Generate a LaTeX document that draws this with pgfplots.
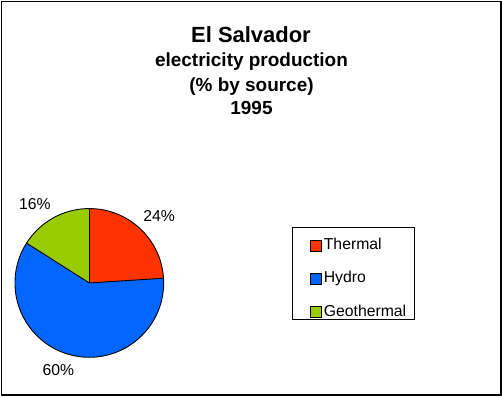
\documentclass[border=0pt]{standalone}
\usepackage{pgfplots}
\usepackage{pgfplotstable}
\pgfplotsset{compat=1.18}
\usepackage{fontspec}
\setmainfont{Liberation Sans}
\definecolor{cthermal}{HTML}{FF3300}
\definecolor{chydro}{HTML}{0066FF}
\definecolor{cgeo}{HTML}{99CC00}
\pgfplotstableread{
source value
Thermal 24
Hydro 60
Geothermal 16
}\piedata
\begin{document}
\begin{tikzpicture}
\pgfplotstablegetelem{0}{value}\of\piedata \let\va\pgfplotsretval
\pgfplotstablegetelem{1}{value}\of\piedata \let\vb\pgfplotsretval
\pgfplotstablegetelem{2}{value}\of\piedata \let\vc\pgfplotsretval
\pgfmathsetmacro\aone{90-3.6*\va}
\pgfmathsetmacro\atwo{\aone-3.6*\vb}
\pgfmathsetmacro\athree{\atwo-3.6*\vc}
\begin{axis}[
  scale only axis, width=502bp, height=397bp,
  xmin=0, xmax=502, ymin=0, ymax=397,
  hide axis, clip=false,
  legend cell align=left,
  legend image code/.code={\draw[#1,draw=black,line width=0.8bp] (0bp,-5.5bp) rectangle (11bp,5.5bp);},
  legend style={draw=none, fill=none, at={(axis cs:309,159)}, anchor=north west,
    inner sep=0pt, row sep=19.3bp, font=\fontsize{15.8bp}{18bp}\selectfont,
    nodes={inner sep=0pt, inner xsep=2.5bp, text height=11bp, text depth=3bp}},
]
\path (0,0) rectangle (502,397);
% frame
\draw[line width=1bp] (0.5,396.5) -- (0.5,1) ;
\draw[line width=1bp] (0,396.5) -- (501,396.5);
\draw[line width=2bp] (500.5,397) -- (500.5,2) -- (0,2);
% pie wedges
\fill[cthermal] (88.5,114.5) -- ++(90:74.5bp) arc[start angle=90, end angle=\aone, radius=74.5bp] -- cycle;
\fill[chydro] (88.5,114.5) -- ++(\aone:74.5bp) arc[start angle=\aone, end angle=\atwo, radius=74.5bp] -- cycle;
\fill[cgeo] (88.5,114.5) -- ++(\atwo:74.5bp) arc[start angle=\atwo, end angle=\athree, radius=74.5bp] -- cycle;
\draw[line width=0.9bp] (88.5,114.5) circle[radius=74.5bp];
\draw[line width=0.9bp] (88.5,114.5) -- ++(90:74.5bp);
\draw[line width=0.9bp] (88.5,114.5) -- ++(\aone:74.5bp);
\draw[line width=0.9bp] (88.5,114.5) -- ++(\atwo:74.5bp);
% labels
\node[anchor=base, inner sep=0pt, font=\fontsize{15.8bp}{18bp}\selectfont] at (158.5,176.3) {24\%};
\node[anchor=base, inner sep=0pt, font=\fontsize{15.8bp}{18bp}\selectfont] at (34,187.7) {16\%};
\node[anchor=base, inner sep=0pt, font=\fontsize{15.8bp}{18bp}\selectfont] at (57.5,21.3) {60\%};
% titles
\node[anchor=base, inner sep=0pt, font=\bfseries\fontsize{22bp}{24bp}\selectfont] at (250.5,355.3) {El Salvador};
\node[anchor=base, inner sep=0pt, font=\bfseries\fontsize{19bp}{20bp}\selectfont] at (251,331) {electricity production};
\node[anchor=base, inner sep=0pt, font=\bfseries\fontsize{19bp}{20bp}\selectfont] at (251,306) {(\% by source)};
\node[anchor=base, inner sep=0pt, font=\bfseries\fontsize{19bp}{20bp}\selectfont] at (251,283.7) {1995};
% legend box
\draw[line width=1bp] (292,170) rectangle (414,78);
\addlegendimage{fill=cthermal}
\addlegendentry{Thermal}
\addlegendimage{fill=chydro}
\addlegendentry{Hydro}
\addlegendimage{fill=cgeo}
\addlegendentry{Geothermal}
\end{axis}
\end{tikzpicture}
\end{document}
